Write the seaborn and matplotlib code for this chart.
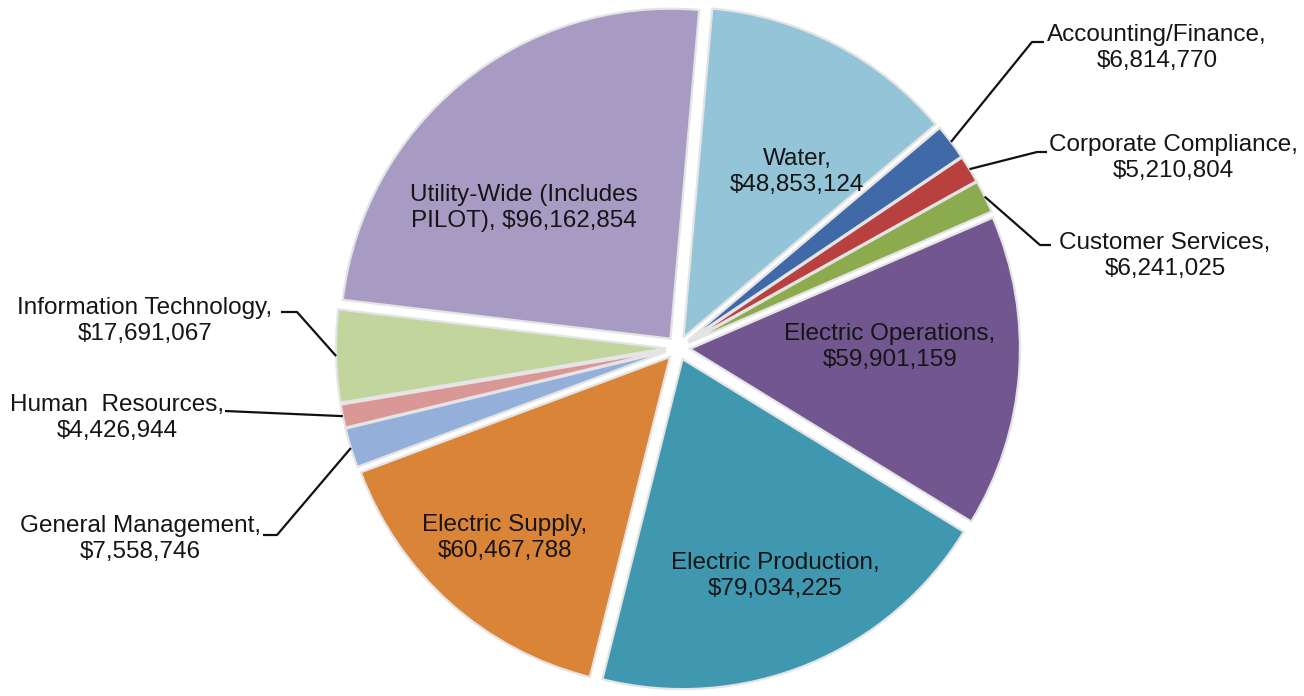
import matplotlib
matplotlib.use("Agg")
import matplotlib.pyplot as plt
import seaborn as sns
import numpy as np

# budget by department
departments = ["Water", "Accounting/Finance", "Corporate Compliance", "Customer Services",
               "Electric Operations", "Electric Production", "Electric Supply",
               "General Management", "Human  Resources", "Information Technology",
               "Utility-Wide (Includes PILOT)"]
amounts = [48853124, 6814770, 5210804, 6241025, 59901159, 79034225, 60467788,
           7558746, 4426944, 17691067, 96162854]
slice_colors = ["#93c4d8", "#4069a8", "#b8403e", "#8cab4e", "#71568f", "#3f97b0",
                "#da8438", "#94afda", "#d99795", "#c1d59d", "#a89bc3"]

# label text for each slice
label_texts = [
    "Water,\n$48,853,124",
    "Accounting/Finance,\n$6,814,770",
    "Corporate Compliance,\n$5,210,804",
    "Customer Services,\n$6,241,025",
    "Electric Operations,\n$59,901,159",
    "Electric Production,\n$79,034,225",
    "Electric Supply,\n$60,467,788",
    "General Management,\n$7,558,746",
    "Human  Resources,\n$4,426,944",
    "Information Technology,\n$17,691,067",
    "Utility-Wide (Includes\nPILOT), $96,162,854",
]

W, H = 1304, 696
CX, CY, R, EXPL = 678, 348, 330, 12

sns.set_style("white")
plt.rcParams["font.family"] = ["Liberation Sans", "DejaVu Sans"]

fig = plt.figure(figsize=(W / 100, H / 100), dpi=100)
ax = fig.add_axes([0, 0, 1, 1])

wedges, _ = ax.pie(amounts, colors=slice_colors, startangle=85, counterclock=False,
                   radius=R, center=(CX, H - CY), explode=[EXPL] * len(amounts),
                   wedgeprops=dict(edgecolor="#e4e4e4", linewidth=1.6))

ax.set_xlim(0, W)
ax.set_ylim(0, H)
ax.set_aspect("equal")
ax.axis("off")

fs = 17.5
ls = 1.22

# inside labels (pixel positions, y from top)
inside = {0: (797, 172), 4: (890, 347), 5: (775, 576), 6: (505, 538), 10: (524, 208)}
for i, (px, py) in inside.items():
    ax.text(px, H - py, label_texts[i], ha="center", va="center", fontsize=fs,
            color="#151515", linespacing=ls)

# outside labels: text centre, elbow, end of leader
outside = {
    1: ((1157, 48), (1032, 42), (1044, 42)),
    2: ((1173, 158), (1037, 152), (1047, 152)),
    3: ((1165, 256), (1040, 245), (1051, 245)),
    9: ((145, 321), (297, 312), (281, 312)),
    8: ((117, 418), (225, 411), (225, 411)),
    7: ((140, 539), (277, 535), (263, 535)),
}
for i, (tpos, elbow, end) in outside.items():
    w = wedges[i]
    mid = np.deg2rad((w.theta1 + w.theta2) / 2)
    wx, wy = w.center
    sx = wx + w.r * np.cos(mid)
    sy = wy + w.r * np.sin(mid)
    ax.plot([sx, elbow[0], end[0]], [sy, H - elbow[1], H - end[1]],
            color="#111111", lw=1.6, solid_capstyle="butt")
    ax.text(tpos[0], H - tpos[1], label_texts[i], ha="center", va="center",
            fontsize=fs, color="#151515", linespacing=ls)

fig.savefig("out.png", dpi=100)
